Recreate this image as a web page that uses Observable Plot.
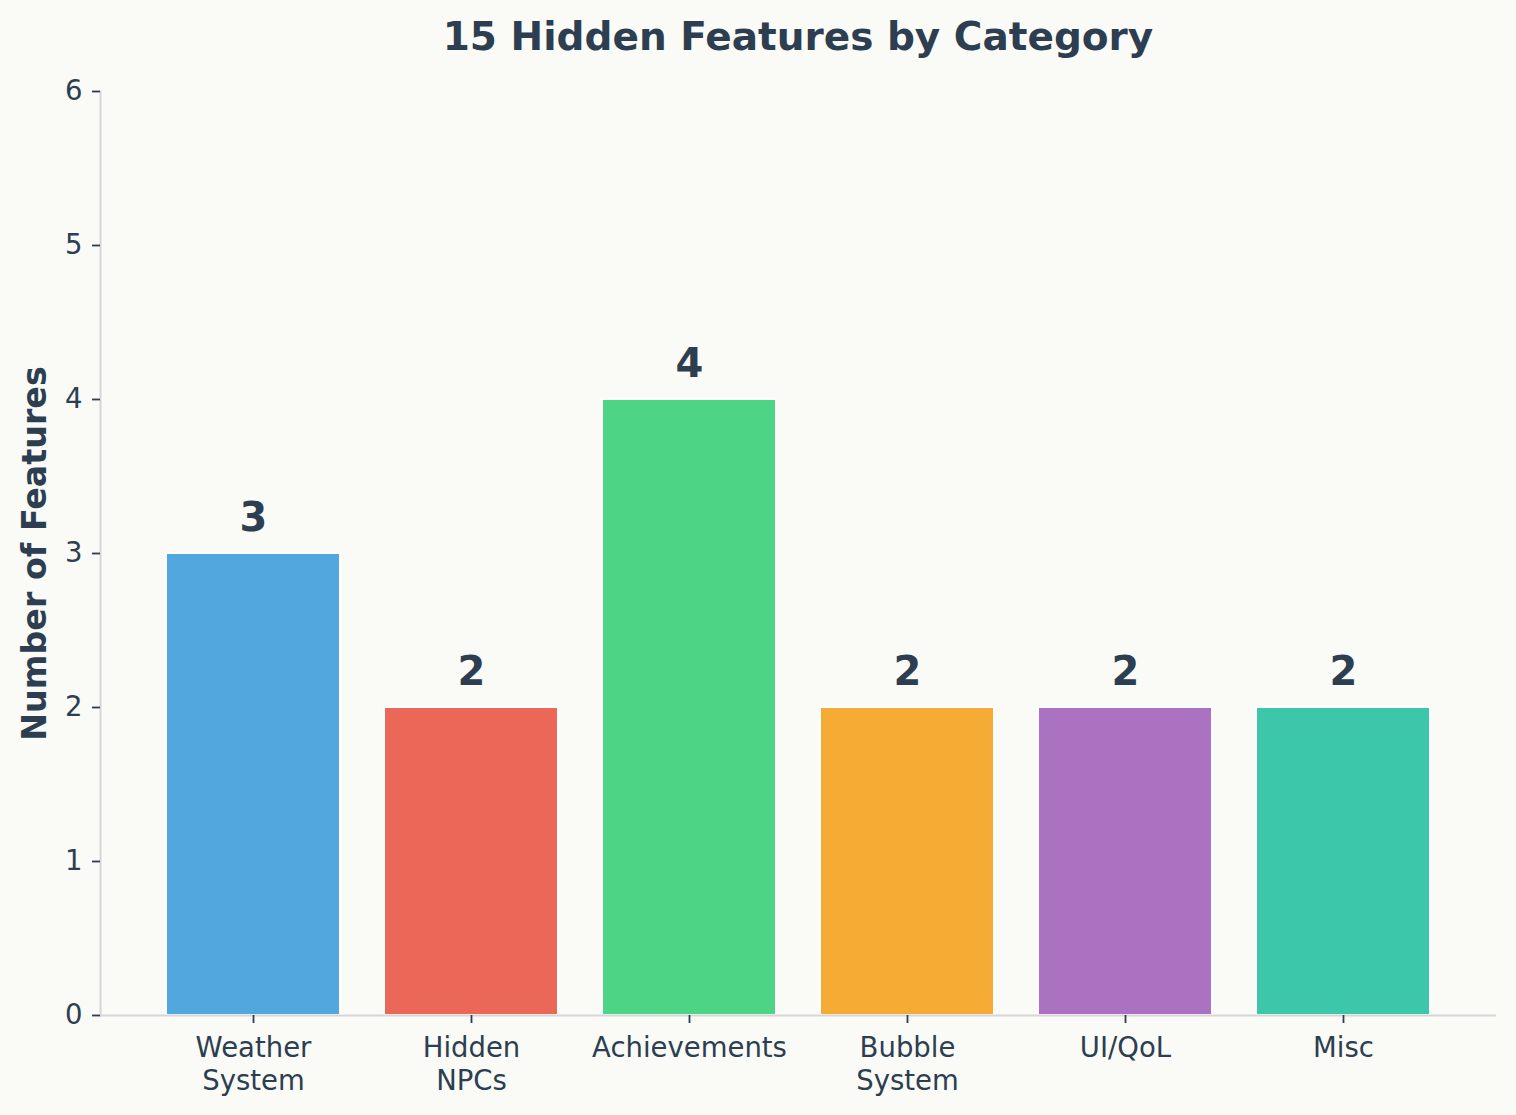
<!DOCTYPE html>
<html>
<head>
<meta charset="utf-8">
<script src="https://cdn.jsdelivr.net/npm/d3@7"></script>
<script src="https://cdn.jsdelivr.net/npm/@observablehq/plot@0.6"></script>
<style>
  html, body { margin: 0; padding: 0; background: #fafaf7; }
  #wrap { width: 1516px; height: 1115px; background: #fafaf7; font-family: "DejaVu Sans", sans-serif; }
  #title { position: relative; height: 70px; }
  #title span { position: absolute; top: 17px; left: 100px; width: 1396px; text-align: center;
    font-size: 39px; line-height: 39px; font-weight: bold; color: #2c3e50; white-space: nowrap; }
  svg { display: block; }
</style>
</head>
<body>
<div id="wrap">
  <div id="title"><span>15 Hidden Features by Category</span></div>
  <div id="chart"></div>
</div>
<script>
const categories = ["Weather\nSystem", "Hidden\nNPCs", "Achievements", "Bubble\nSystem", "UI/QoL", "Misc"];
const counts = [3, 2, 4, 2, 2, 2];
const colors = ["#3498db", "#e74c3c", "#2ecc71", "#f39c12", "#9b59b6", "#1abc9c"];
const yTicks = [0, 1, 2, 3, 4, 5, 6];

const data = categories.map((c, i) => ({category: c, count: counts[i], color: colors[i]}));
const ink = "#2c3e50";
const spine = "#d6d6d6";

const chart = Plot.plot({
  width: 1516,
  height: 1045,
  marginLeft: 100,
  marginRight: 20,
  marginTop: 21,
  marginBottom: 100,
  style: {background: "#fafaf7", color: ink, fontFamily: "DejaVu Sans, sans-serif", fontSize: "27.5px", overflow: "visible"},
  x: {domain: categories, paddingInner: 0.2, paddingOuter: 0.29, label: null},
  y: {domain: [0, 6], label: null},
  marks: [
    Plot.barY(data, {x: "category", y: "count", fill: "color", fillOpacity: 0.85, stroke: "#ffffff", strokeWidth: 2}),
    Plot.ruleY([0], {stroke: spine, strokeWidth: 2}),
    Plot.frame({anchor: "left", stroke: spine, strokeWidth: 2}),
    Plot.axisY({ticks: yTicks, tickFormat: d => String(d), tickSize: 8, tickPadding: 10, stroke: ink, strokeWidth: 1.8, label: null, fontSize: 27.5}),
    Plot.axisX({tickSize: 8, tickPadding: 10, stroke: ink, strokeWidth: 1.8, label: null, lineHeight: 1.2, fontSize: 27.5}),
    Plot.text(data, {x: "category", y: "count", text: d => String(d.count), dy: -23, lineAnchor: "bottom",
      fontSize: 40, fontWeight: "bold", fill: ink}),
    Plot.text(["Number of Features"], {frameAnchor: "left", textAnchor: "middle", rotate: -90, dx: -65, fontSize: 33.3,
      fontWeight: "bold", fill: ink})
  ]
});
document.getElementById("chart").appendChild(chart);
</script>
</body>
</html>
